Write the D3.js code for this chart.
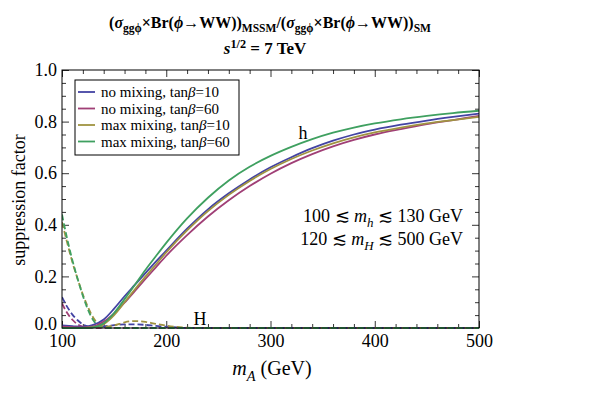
<!DOCTYPE html>
<html><head><meta charset="utf-8">
<script src="https://cdn.jsdelivr.net/npm/d3@7/dist/d3.min.js"></script>
<style>body{margin:0;background:#fff}svg{display:block}text{font-family:"Liberation Serif","DejaVu Serif",serif;fill:#000}</style>
</head><body>
<svg id="c" width="600" height="400"></svg>
<script>
// ---- data ----
const seriesNames = ["no mixing, tanβ=10","no mixing, tanβ=60","max mixing, tanβ=10","max mixing, tanβ=60"];
const seriesColors = ["#4343a3","#a03f76","#a09341","#3fa060"];
// light Higgs h (solid)
const hMass = [100,110,120,130,140,150,160,170,180,190,200,220,240,260,280,300,320,340,360,380,400,425,450,475,500];
const hNoMix10 = [0.010,0.007,0.004,0.012,0.033,0.075,0.123,0.168,0.213,0.257,0.300,0.385,0.460,0.522,0.576,0.623,0.662,0.697,0.726,0.750,0.769,0.788,0.804,0.818,0.831];
const hNoMix60 = [0.005,0.003,0.002,0.006,0.025,0.057,0.098,0.144,0.190,0.235,0.280,0.360,0.432,0.495,0.550,0.598,0.639,0.674,0.704,0.729,0.750,0.771,0.790,0.806,0.822];
const hMax10   = [0.000,0.000,0.000,0.003,0.015,0.050,0.100,0.150,0.199,0.246,0.293,0.378,0.453,0.516,0.570,0.616,0.655,0.688,0.716,0.739,0.758,0.777,0.793,0.806,0.818];
const hMax60   = [0.000,0.000,0.000,0.002,0.018,0.058,0.112,0.168,0.225,0.278,0.330,0.425,0.505,0.572,0.625,0.667,0.702,0.732,0.757,0.777,0.793,0.809,0.822,0.833,0.842];
// heavy Higgs H (dashed)
const HMass = [100,105,110,115,120,125,130,135,140,150,160,170,180,190,200,210,220,230,300,400,500];
const HNoMix10 = [0.120,0.082,0.052,0.030,0.014,0.006,0.004,0.004,0.006,0.011,0.014,0.014,0.012,0.008,0.005,0.002,0.000,0.000,0,0,0];
const HNoMix60 = [0.095,0.058,0.032,0.014,0.005,0.001,0.000,0.000,0.000,0.000,0.000,0.000,0.000,0.000,0.000,0.000,0.000,0.000,0,0,0];
const HMax10   = [0.410,0.330,0.255,0.190,0.130,0.080,0.040,0.015,0.005,0.010,0.022,0.027,0.024,0.016,0.009,0.004,0.001,0.000,0,0,0];
const HMax60   = [0.440,0.345,0.262,0.190,0.125,0.070,0.030,0.008,0.001,0.000,0.000,0.000,0.000,0.000,0.000,0.000,0.000,0.000,0,0,0];
const xMajor = [100,200,300,400,500];
const yMajor = [0,0.2,0.4,0.6,0.8,1.0];

const hSeries = [hNoMix10,hNoMix60,hMax10,hMax60];
const HSeries = [HNoMix10,HNoMix60,HMax10,HMax60];

// ---- layout ----
const svg = d3.select("#c");
const L=62,R=479,T=70,B=328;
const x = d3.scaleLinear().domain([100,500]).range([L,R]);
const y = d3.scaleLinear().domain([0,1]).range([B,T]);

svg.append("defs").append("clipPath").attr("id","clip")
  .append("rect").attr("x",L).attr("y",T-2).attr("width",R-L+1).attr("height",B-T+3);

const xMinor = d3.range(100,501,20).filter(v=>v%100!==0);
const yMinor = d3.range(0,1.0001,0.05).map(v=>+v.toFixed(2)).filter(v=>Math.abs(v*5-Math.round(v*5))>1e-6);

function styleAxis(g){g.select(".domain").remove();g.selectAll("line").attr("stroke","#000").attr("stroke-width",0.8);g.selectAll("text").style("font-size","18px").attr("fill","#000");}

svg.append("g").attr("transform",`translate(0,${B})`).call(d3.axisBottom(x).tickValues(xMinor).tickSize(-4).tickFormat("")).call(styleAxis);
svg.append("g").attr("transform",`translate(0,${B})`).call(d3.axisBottom(x).tickValues(xMajor).tickSize(-7).tickPadding(6).tickFormat(d3.format("d"))).call(styleAxis);
svg.append("g").attr("transform",`translate(0,${T})`).call(d3.axisTop(x).tickValues(xMinor).tickSize(-4).tickFormat("")).call(styleAxis);
svg.append("g").attr("transform",`translate(0,${T})`).call(d3.axisTop(x).tickValues(xMajor).tickSize(-7).tickFormat("")).call(styleAxis);
svg.append("g").attr("transform",`translate(${L},0)`).call(d3.axisLeft(y).tickValues(yMinor).tickSize(-4).tickFormat("")).call(styleAxis);
svg.append("g").attr("transform",`translate(${L},0)`).call(d3.axisLeft(y).tickValues(yMajor).tickSize(-7).tickPadding(5).tickFormat(d3.format(".1f"))).call(styleAxis)
  .selectAll("text").filter(d=>d===0).attr("dy","0.1em");
svg.append("g").attr("transform",`translate(${R},0)`).call(d3.axisRight(y).tickValues(yMinor).tickSize(-4).tickFormat("")).call(styleAxis);
svg.append("g").attr("transform",`translate(${R},0)`).call(d3.axisRight(y).tickValues(yMajor).tickSize(-7).tickFormat("")).call(styleAxis);

const plot = svg.append("g").attr("clip-path","url(#clip)");
const lineH = d3.line().x((d,i)=>x(HMass[i])).y(d=>y(d)).curve(d3.curveMonotoneX);
const lineh = d3.line().x((d,i)=>x(hMass[i])).y(d=>y(d)).curve(d3.curveMonotoneX);
HSeries.forEach((s,k)=>plot.append("path").attr("d",lineH(s)).attr("fill","none")
  .attr("stroke",seriesColors[k]).attr("stroke-width",1.8).attr("stroke-dasharray","6,3"));
hSeries.forEach((s,k)=>plot.append("path").attr("d",lineh(s)).attr("fill","none")
  .attr("stroke",seriesColors[k]).attr("stroke-width",1.8));

svg.append("rect").attr("x",L).attr("y",T).attr("width",R-L).attr("height",B-T)
  .attr("fill","none").attr("stroke","#000").attr("stroke-width",1);

// rich text helper: segments [text, mode] mode: n normal, i italic, sub, subi, sup
function rich(sel, segs, size){
  let off=0;
  segs.forEach(([t,m])=>{
    const ts = sel.append("tspan").text(t);
    let target = 0, fs=size;
    if(m==="sub"||m==="subi"){target=0.28*size;fs=size*0.72;}
    if(m==="sup"){target=-0.38*size;fs=size*0.72;}
    ts.attr("dy",target-off).style("font-size",fs+"px");
    if(m==="i"||m==="subi") ts.style("font-style","italic");
    off=target;
  });
  return sel;
}

// titles
const t1 = svg.append("text").attr("x",270).attr("y",28).attr("text-anchor","middle").style("font-size","16px").style("font-weight","bold");
rich(t1,[["(","n"],["σ","i"],["ggϕ","sub"],["×Br(","n"],["ϕ","i"],["→WW))","n"],["MSSM","sub"],["/(","n"],["σ","i"],["ggϕ","sub"],["×Br(","n"],["ϕ","i"],["→WW))","n"],["SM","sub"]],16);
const t2 = svg.append("text").attr("x",265).attr("y",54).attr("text-anchor","middle").style("font-size","17px").style("font-weight","bold");
rich(t2,[["s","i"],["1/2","sup"],[" = 7 TeV","n"]],17);

// axis titles
const xt = svg.append("text").attr("x",272).attr("y",375).attr("text-anchor","middle").style("font-size","20px");
rich(xt,[["m","i"],["A","subi"],[" (GeV)","n"]],20);
svg.append("text").attr("transform",`translate(25,200) rotate(-90)`).attr("text-anchor","middle").style("font-size","18px").text("suppression factor");

// legend
const lg = svg.append("g");
lg.append("rect").attr("x",75).attr("y",80).attr("width",164).attr("height",75).attr("fill","#fff").attr("stroke","#000").attr("stroke-width",1);
seriesNames.forEach((n,k)=>{
  const yy = 92 + k*16.5;
  lg.append("line").attr("x1",78).attr("x2",95).attr("y1",yy).attr("y2",yy).attr("stroke",seriesColors[k]).attr("stroke-width",1.8);
  const tx = lg.append("text").attr("x",101).attr("y",yy+5).style("font-size","15px");
  const parts = n.split("β");
  rich(tx,[[parts[0],"n"],["β","i"],[parts[1],"n"]],15);
});

// annotations
svg.append("text").attr("x",303).attr("y",139).attr("text-anchor","middle").style("font-size","18px").text("h");
svg.append("text").attr("x",200).attr("y",325).attr("text-anchor","middle").style("font-size","18px").text("H");
const a1 = svg.append("text").attr("x",463).attr("y",222).attr("text-anchor","end").style("font-size","18px");
rich(a1,[["100 ≲ ","n"],["m","i"],["h","subi"],[" ≲ 130 GeV","n"]],18);
const a2 = svg.append("text").attr("x",463).attr("y",245).attr("text-anchor","end").style("font-size","18px");
rich(a2,[["120 ≲ ","n"],["m","i"],["H","subi"],[" ≲ 500 GeV","n"]],18);
</script>
</body></html>
